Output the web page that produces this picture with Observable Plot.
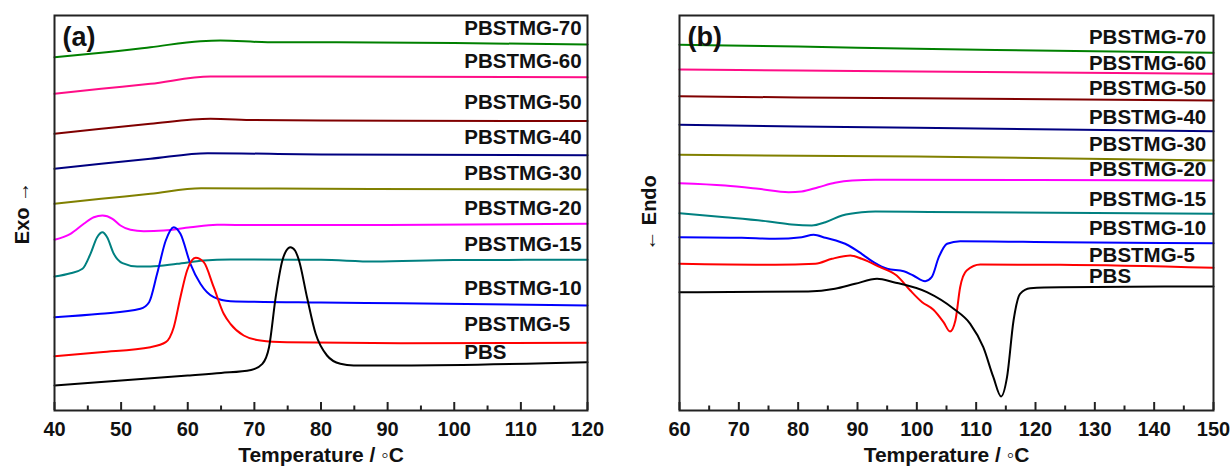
<!DOCTYPE html>
<html><head><meta charset="utf-8">
<script src="https://cdn.jsdelivr.net/npm/d3@7"></script>
<script src="https://cdn.jsdelivr.net/npm/@observablehq/plot@0.6"></script>
<style>
body{margin:0;background:#fff;}
#wrap{display:flex;width:1230px;height:466px;}
</style></head><body><div id="wrap"></div>
<script>
// ---- Series names and colours ----
const names  = ["PBSTMG-70","PBSTMG-60","PBSTMG-50","PBSTMG-40","PBSTMG-30","PBSTMG-20","PBSTMG-15","PBSTMG-10","PBSTMG-5","PBS"];
const colors = ["#008000","#ff0d86","#800000","#000080","#808000","#ff00ff","#008080","#0000ff","#ff0000","#000000"];

// ---- Panel (a): cooling scans, [temperature °C, heat flow (a.u., exo up)] ----
const a70 = [[40,353.3],[47,357.7],[54.4,363.3],[61.9,369.3],[64.9,370],[72,368.3],[80,368.3],[100,367.5],[120,366]];
const a60 = [[40,316.7],[47,321.7],[54.4,326.7],[63.4,334],[70,334],[80,334],[120,333.3]];
const a50 = [[40,276.7],[47,281.7],[54.4,286.7],[63.4,291.7],[70,290.5],[80,290],[120,289.5]];
const a40 = [[40,241.7],[47,246.7],[54.4,251.7],[63,257.3],[80,256],[120,255.3]];
const a30 = [[40,206.7],[47,211.7],[54.4,216.7],[62,222.3],[80,221.7],[120,221]];
const a20 = [[40,170.7],[42.4,176.7],[44.4,186.7],[45.9,193.3],[47.2,195],[48.7,191.7],[49.9,185],[51.4,180.7],[53.4,179.3],[56.4,180],[60.4,183.3],[64.4,185.7],[70,185.5],[90,185.5],[120,186.7]];
const a15 = [[40,134],[42.4,137.3],[44.2,141.7],[45.4,156.7],[46.4,173.3],[47.2,178.3],[47.9,173.3],[48.9,156.7],[50.2,147.3],[52.4,144],[54.4,144],[58.4,146.7],[62.4,150],[66.4,151],[80,150.7],[88,149],[100,150.5],[120,150.7]];
const a10 = [[40,93.3],[46.9,96.7],[52.9,101.7],[54.2,108.3],[55.4,136.7],[56.7,170],[57.9,183.3],[58.9,176.7],[60.4,146.7],[61.9,126.7],[63.9,113.3],[66.4,109.3],[80,108],[92,107.3],[120,105]];
const a5  = [[40,54.3],[46.9,58.3],[54.4,63.3],[56.7,68.3],[57.9,83.3],[58.9,113.3],[59.9,140],[61.2,152.7],[62.4,148.3],[63.9,123.3],[65.4,96.7],[66.4,86.7],[68.4,75],[70.9,70],[74.9,68.3],[92,67.3],[120,67.7]];
const aPBS= [[40,25],[50,30],[60,35],[65,37.5],[69.5,40.5],[71.2,46.7],[72.2,63.3],[73.2,113.3],[74.2,150],[74.8,160],[75.4,163.3],[76.1,160],[76.7,150],[77.9,113.3],[79.2,76.7],[80.9,55],[82.9,46.7],[84.9,45],[92,45],[120,48.3]];
const aLabelY = [382,349,308,273,237,202,166,122,86,58];

// ---- Panel (b): heating scans, [temperature °C, heat flow (a.u., endo down)] ----
const b70 = [[60,365.7],[80,364],[100,361.7],[120,360],[150,357.7]];
const b60 = [[60,341],[80,340],[100,339],[150,336.7]];
const b50 = [[60,314.3],[80,313],[100,312.3],[150,310]];
const b40 = [[60,285.7],[80,284],[100,282.7],[150,279.3]];
const b30 = [[60,255.7],[100,254],[150,250]];
const b20 = [[60,227.3],[67.7,225],[73.3,221.7],[78.4,218.3],[80.6,219],[83.4,223.3],[86.2,227.7],[89.1,230],[93,230.7],[120,230.5],[150,230]];
const b15 = [[60,197.3],[67.7,193.3],[75,189],[78.9,186],[82.3,185],[84.6,188.3],[87.4,195],[90.7,198.3],[93,199],[102,198.5],[150,196.7]];
const b10 = [[60,173.3],[70.5,172.7],[76.1,171.7],[80.6,173.3],[82.6,175.7],[84.6,172.7],[88.5,165],[90.7,156.7],[92.7,148.3],[95,141.7],[97.8,139.3],[99.4,135],[101.4,129.3],[102.5,133.3],[103.7,153.3],[105.1,166.7],[107.3,169.3],[124.2,168.3],[150,167.3]];
const b5  = [[60,146.7],[76.1,145.7],[82.9,146.7],[85.7,151.7],[88.8,155],[90.7,151.7],[93.8,143.3],[96.6,135],[98.9,120],[100.9,108.3],[102.8,100.7],[104.5,88.3],[105.6,79],[106.5,90],[107.3,123.3],[108.4,140],[110.7,146],[124.2,145.7],[150,142.7]];
const bPBS= [[60,118.3],[81.7,119],[86.2,121.7],[89.6,126.7],[93.3,131.7],[96.1,128.3],[101.7,118.3],[106.2,101.7],[109,86.7],[111.2,63.3],[112.9,33.3],[114.2,14],[115.2,33.3],[116.3,90],[117.4,116.7],[119.1,122.3],[124.2,123.3],[150,124]];
const bLabelY = [373.3,346.7,321.7,292.7,266,240.7,211,181.7,155,134];

// ---- Axis ticks ----
const aMajor = [40,50,60,70,80,90,100,110,120];
const aMinor = [45,55,65,75,85,95,105,115];
const bMajor = [60,70,80,90,100,110,120,130,140,150];
const bMinor = [65,75,85,95,105,115,125,135,145];

const FONT = "'Liberation Sans', Arial, sans-serif";

function panel({curves, labelY, xDomain, major, minor, labelX, tag, ylabel, yLabelDx, marginLeft, marginRight}) {
  const rows = curves.flatMap((c, i) => c.map(([t, v]) => ({name: names[i], color: colors[i], t, v})));
  const labels = names.map((n, i) => ({name: n, y: labelY[i]}));
  const inner = 466 - 15 - 56;
  return Plot.plot({
    width: 615, height: 466, marginLeft, marginRight, marginTop: 15, marginBottom: 56,
    x: {domain: xDomain},
    y: {domain: [0, 395], axis: null},
    color: {type: "identity"},
    style: {fontFamily: FONT, background: "white", color: "black"},
    marks: [
      Plot.line(rows, {x: "t", y: "v", z: "name", stroke: "color", strokeWidth: 2, curve: "monotone-x"}),
      Plot.tickX(minor, {x: d => d, insetTop: inner - 4.5, stroke: "#222", strokeWidth: 2}),
      Plot.tickX(major, {x: d => d, insetTop: inner - 8, stroke: "#222", strokeWidth: 2}),
      Plot.axisX(major, {tickSize: 0, tickPadding: 11, fontSize: 20, fontWeight: "bold", label: null, tickFormat: d => d, fill: "#111"}),
      Plot.frame({stroke: "#222", strokeWidth: 2}),
      Plot.text(labels, {x: labelX, y: "y", text: "name", textAnchor: "start", fontSize: 20.5, fontWeight: "bold", fill: "#111"}),
      Plot.text([tag], {frameAnchor: "top-left", dx: 8, dy: 22, textAnchor: "start", lineAnchor: "middle", fontSize: 27, fontWeight: "bold", fill: "#111"}),
      Plot.text([ylabel], {frameAnchor: "left", rotate: -90, dx: yLabelDx, textAnchor: "middle", lineAnchor: "middle", fontSize: 20, fontWeight: "bold", fill: "#111"}),
      Plot.text(["Temperature / \u25E6C"], {frameAnchor: "bottom", dy: 45, lineAnchor: "middle", fontSize: 21, fontWeight: "bold", fill: "#111"})
    ]
  });
}

const wrap = document.getElementById("wrap");
wrap.appendChild(panel({
  curves: [a70,a60,a50,a40,a30,a20,a15,a10,a5,aPBS], labelY: aLabelY,
  xDomain: [40,120], major: aMajor, minor: aMinor, labelX: 101.5,
  tag: "(a)", ylabel: "Exo \u2192", yLabelDx: -32, marginLeft: 54, marginRight: 28
}));
wrap.appendChild(panel({
  curves: [b70,b60,b50,b40,b30,b20,b15,b10,b5,bPBS], labelY: bLabelY,
  xDomain: [60,150], major: bMajor, minor: bMinor, labelX: 129,
  tag: "(b)", ylabel: "\u2190 Endo", yLabelDx: -30, marginLeft: 64, marginRight: 17
}));
</script></body></html>
